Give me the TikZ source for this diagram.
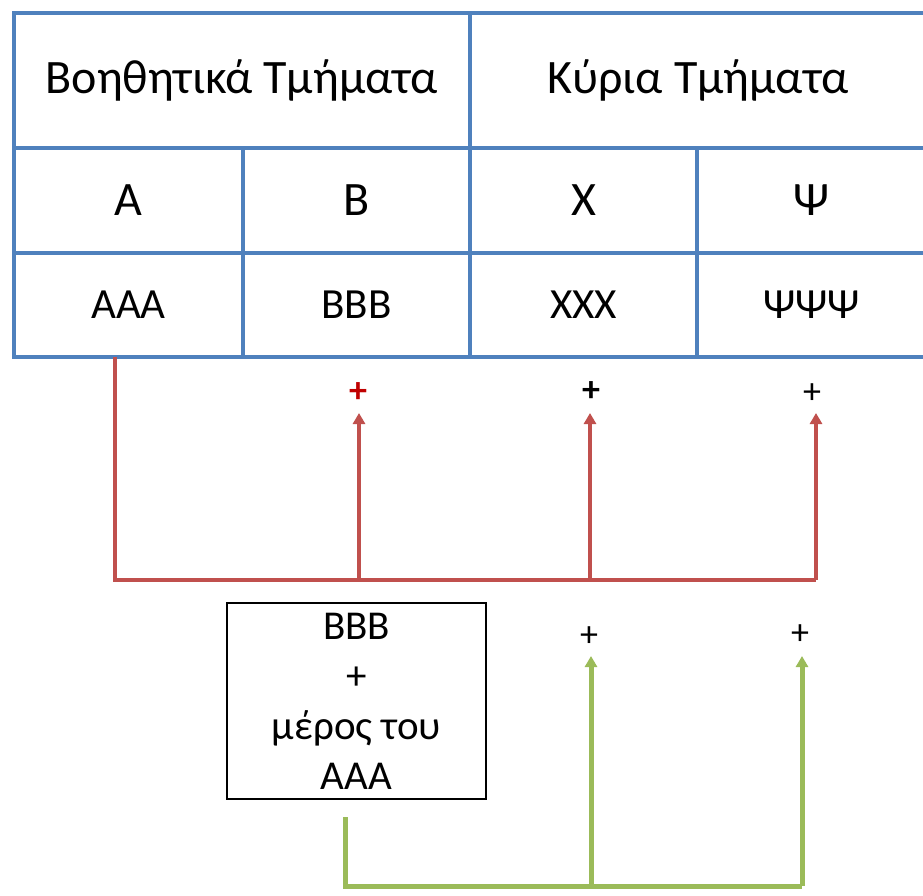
\documentclass[tikz,border=0pt]{standalone}
\usepackage{fontspec}
\setmainfont{Carlito}
\usetikzlibrary{arrows.meta}
\definecolor{tblue}{HTML}{4F81BD}
\definecolor{tred}{HTML}{C0504D}
\definecolor{tgreen}{HTML}{9BBB59}
\definecolor{pred}{HTML}{C00000}
\begin{document}
\begin{tikzpicture}[x=1pt,y=-1pt,
  cell/.style={draw=tblue,line width=4pt,inner sep=0pt,align=center},
  hdr/.style={cell,minimum height=135pt,font=\fontsize{48}{52}\selectfont},
  mid/.style={cell,minimum height=105pt,font=\fontsize{48}{52}\selectfont},
  low/.style={cell,minimum height=104pt,font=\fontsize{43}{46}\selectfont},
  plus/.style={inner sep=0pt,font=\fontsize{36}{38}\selectfont},
  redline/.style={draw=tred,line width=4.5pt},
  greenline/.style={draw=tgreen,line width=5pt},
  tip/.style={-{Triangle[length=11pt,width=12pt]}},
  note/.style={draw=black,line width=1.8pt,minimum width=259pt,minimum height=196pt,inner sep=0pt,align=center,font=\fontsize{41}{50}\selectfont}]
\useasboundingbox (0,0) rectangle (923,895);
% table
\node[hdr,minimum width=456pt] (h1) at (242,80.5) {Βοηθητικά Τμήματα};
\node[hdr,minimum width=456pt] (h2) at (698,80.5) {Κύρια Τμήματα};
\node[mid,minimum width=229pt] (a2) at (128.5,200.5) {A};
\node[mid,minimum width=227pt] (b2) at (356.5,200.5) {B};
\node[mid,minimum width=227pt] (x2) at (583.5,200.5) {X};
\node[mid,minimum width=229pt] (y2) at (811.5,200.5) {Ψ};
\node[low,minimum width=229pt] (a3) at (128.5,305) {AAA};
\node[low,minimum width=227pt] (b3) at (356.5,305) {BBB};
\node[low,minimum width=227pt] (x3) at (583.5,305) {XXX};
\node[low,minimum width=229pt] (y3) at (811.5,305) {ΨΨΨ};
% red plus signs
\node[plus,text=pred,font=\fontsize{36}{38}\selectfont\bfseries] (rp1) at (358,393) {+};
\node[plus,font=\fontsize{36}{38}\selectfont\bfseries] (rp2) at (591,392) {+};
\node[plus] (rp3) at (812,394) {+};
% red connector
\coordinate (r0) at (115,357);
\coordinate (rc) at (816,580);
\coordinate (rb1) at (359,580);
\coordinate (rb2) at (590,580);
\coordinate (rt1) at (359,413);
\coordinate (rt2) at (590,413);
\coordinate (rt3) at (816,413);
\draw[redline] (r0) |- (rc);
\draw[redline,tip] (rc) -- (rt3);
\draw[redline,tip] (rb1) -- (rt1);
\draw[redline,tip] (rb2) -- (rt2);
% box
\node[note] (box) at (356.5,701) {BBB\\+\\μέρος του\\AAA};
% green plus signs
\node[plus] (gp1) at (589,637) {+};
\node[plus] (gp2) at (800,635) {+};
% green connector
\coordinate (g0) at (345,817);
\coordinate (gc) at (802,886);
\coordinate (gb1) at (591,886);
\coordinate (gt1) at (591,656);
\coordinate (gt2) at (802,656);
\draw[greenline] (g0) |- (gc);
\draw[greenline,tip] (gc) -- (gt2);
\draw[greenline,tip] (gb1) -- (gt1);
\end{tikzpicture}
\end{document}
